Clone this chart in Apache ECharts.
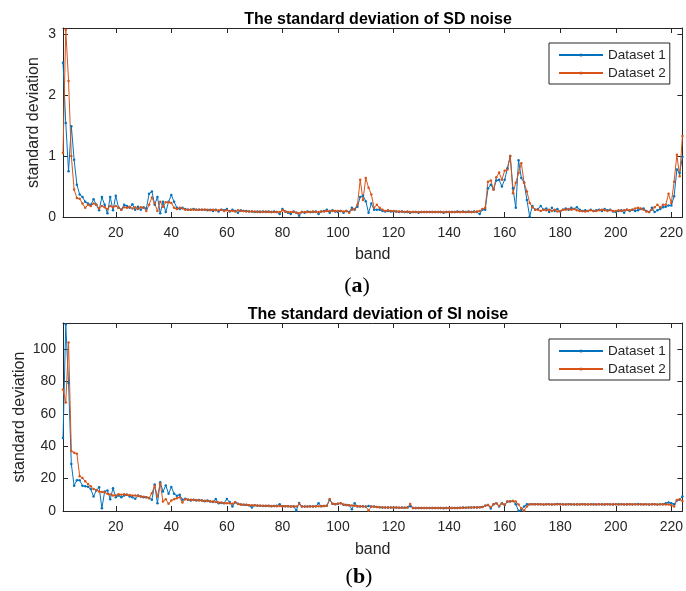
<!DOCTYPE html>
<html>
<head>
<meta charset="utf-8">
<script src="https://cdn.jsdelivr.net/npm/echarts@6/dist/echarts.min.js"></script>
<style>
html,body{margin:0;padding:0;background:#fff;}
#chart{width:686px;height:591px;}
</style>
</head>
<body>
<div id="chart"></div>
<script>
// Tick labels
var xTicks = [20, 40, 60, 80, 100, 120, 140, 160, 180, 200, 220];
var yTicksA = [0, 1, 2, 3];
var yTicksB = [0, 20, 40, 60, 80, 100];

// (a) standard deviation of SD noise
var sdDataset1 = [
2.53,1.54,0.75,1.49,0.94,0.53,0.37,0.33,0.25,0.22,
0.20,0.29,0.20,0.11,0.33,0.20,0.06,0.33,0.11,0.35,
0.15,0.12,0.20,0.18,0.15,0.21,0.12,0.17,0.12,0.16,
0.14,0.38,0.42,0.20,0.33,0.06,0.25,0.08,0.25,0.36,
0.25,0.15,0.13,0.15,0.13,0.12,0.12,0.13,0.12,0.12,
0.12,0.12,0.11,0.12,0.10,0.12,0.09,0.12,0.11,0.13,
0.09,0.12,0.10,0.07,0.11,0.10,0.10,0.09,0.09,0.08,
0.09,0.08,0.09,0.08,0.09,0.08,0.09,0.08,0.05,0.13,
0.09,0.07,0.05,0.09,0.07,0.02,0.08,0.07,0.09,0.08,
0.08,0.09,0.05,0.09,0.10,0.12,0.07,0.11,0.09,0.08,
0.10,0.07,0.10,0.08,0.15,0.12,0.17,0.33,0.35,0.26,
0.07,0.22,0.12,0.12,0.12,0.10,0.09,0.10,0.09,0.09,
0.09,0.08,0.09,0.08,0.08,0.07,0.08,0.08,0.07,0.08,
0.08,0.08,0.08,0.08,0.08,0.08,0.08,0.07,0.08,0.08,
0.08,0.08,0.09,0.08,0.09,0.08,0.09,0.08,0.09,0.08,
0.05,0.12,0.12,0.47,0.53,0.45,0.60,0.61,0.50,0.61,
0.80,1.00,0.47,0.15,0.93,0.64,0.56,0.28,0.01,0.18,
0.12,0.13,0.18,0.12,0.14,0.08,0.15,0.10,0.13,0.09,
0.12,0.14,0.12,0.15,0.13,0.16,0.12,0.10,0.11,0.10,
0.12,0.10,0.11,0.12,0.10,0.13,0.11,0.12,0.09,0.08,
0.10,0.11,0.07,0.12,0.10,0.12,0.10,0.11,0.13,0.14,
0.10,0.08,0.15,0.08,0.11,0.13,0.16,0.17,0.19,0.19,
0.34,0.78,0.72,0.99
];
var sdDataset2 = [
1.05,3.07,2.23,1.00,0.45,0.31,0.30,0.22,0.15,0.20,
0.18,0.22,0.20,0.14,0.18,0.16,0.13,0.18,0.16,0.18,
0.15,0.12,0.16,0.15,0.17,0.14,0.16,0.13,0.16,0.15,
0.10,0.20,0.32,0.22,0.10,0.25,0.17,0.24,0.24,0.23,
0.15,0.13,0.15,0.14,0.12,0.12,0.12,0.12,0.12,0.12,
0.12,0.12,0.12,0.11,0.12,0.11,0.11,0.12,0.10,0.11,
0.10,0.10,0.09,0.11,0.10,0.10,0.09,0.09,0.09,0.09,
0.08,0.09,0.08,0.09,0.08,0.08,0.08,0.08,0.08,0.11,
0.09,0.08,0.08,0.08,0.07,0.06,0.08,0.08,0.08,0.08,
0.09,0.08,0.08,0.09,0.09,0.10,0.10,0.10,0.10,0.10,
0.10,0.09,0.10,0.07,0.12,0.13,0.20,0.61,0.28,0.64,
0.48,0.37,0.15,0.20,0.15,0.12,0.10,0.11,0.10,0.10,
0.09,0.09,0.09,0.08,0.09,0.08,0.08,0.08,0.08,0.08,
0.08,0.08,0.08,0.08,0.08,0.08,0.08,0.08,0.08,0.08,
0.08,0.08,0.08,0.08,0.08,0.08,0.08,0.08,0.08,0.09,
0.10,0.13,0.15,0.58,0.60,0.45,0.65,0.73,0.61,0.76,
0.78,1.00,0.39,0.56,0.72,0.88,0.56,0.42,0.23,0.16,
0.12,0.12,0.10,0.12,0.11,0.12,0.10,0.12,0.09,0.10,
0.12,0.12,0.13,0.12,0.13,0.11,0.10,0.10,0.09,0.10,
0.11,0.10,0.10,0.11,0.12,0.11,0.10,0.11,0.10,0.10,
0.11,0.10,0.11,0.12,0.11,0.12,0.14,0.15,0.14,0.12,
0.09,0.08,0.12,0.16,0.20,0.16,0.20,0.20,0.38,0.23,
0.58,1.02,0.67,1.33
];

// (b) standard deviation of SI noise
var siDataset1 = [
45,115,79,29,15.6,19,19,15.6,15.2,15,
13.5,9,12.7,14.6,1.7,12,12.7,7.3,14,8.5,
9.5,8.5,9.5,10,9,8.5,7.5,9.5,9,8.5,
8.5,8,7,16.3,4.8,17.7,12,15.8,10.6,14.8,
10.6,9.4,10,7,7.5,7,6.5,7,6.5,6.8,
6.5,6,6.5,5.8,5.5,7.4,4.8,5,4.8,7.4,
5.5,2.7,5.4,4.5,4,3.8,3.7,3.5,2.1,3.5,
3.3,3.2,3.1,3.1,3.2,3,3.1,3.2,4.1,3,
3,2.9,2.8,2.9,0.3,5,2.7,2.8,2.7,2.9,
2.8,2.9,4.8,3,3.1,3.2,7,4.4,4.2,4.5,
4.8,3.9,3.7,3.6,1.1,4.8,2.8,2.7,2.9,2.6,
3.1,2.8,2.7,2.5,2.3,2.2,2.1,2.1,2.2,2.1,
2.1,2.0,2.1,2.0,2.2,3.0,1.9,1.8,1.9,1.8,
1.8,1.9,1.8,1.8,1.9,1.8,1.8,1.7,1.8,1.8,
1.9,1.8,1.9,2.0,2.1,2.0,2.2,2.1,2.3,2.2,
2.3,2.4,3.3,3.7,1.6,4.1,4.8,2.7,4.8,3.7,
5.8,5.8,6.2,4.1,0.2,0.6,2.7,4.1,4.1,4.2,
4.1,4.2,4.1,4.0,4.1,4.2,4.0,4.1,4.3,4.2,
4.1,4.0,4.2,4.1,4.0,4.1,4.0,4.2,4.1,4.0,
4.1,4.2,4.0,4.1,4.1,4.0,4.2,4.1,4.0,4.1,
4.2,4.1,4.0,4.1,4.2,4.0,4.1,4.3,4.1,4.0,
4.1,4.0,4.2,4.1,4.0,4.1,4.2,4.8,5.2,4.8,
4.2,6.5,7.0,9.0
];
var siDataset2 = [
75,67,104,37,36,35.4,21.5,20.4,18.3,16.7,
15.2,13.5,13,12,11.7,11.5,10.6,10.2,9.6,9.6,
10.4,10,10.4,10,9.8,9.5,9.6,9.2,9,8.8,
8.5,7.9,11,15.6,9,17,5.8,7.3,4.4,6.5,
7.3,7.9,8.5,5.2,7.3,7,7,6.8,6.8,6.5,
6.5,6.3,6.2,6,5.8,5.5,5.3,5.2,5,4.8,
4.8,4.5,5.4,4.3,4,3.9,3.8,3.6,3.5,3.5,
3.4,3.3,3.2,3.2,3.1,3.1,3.1,3,3.1,3,
3,2.9,2.8,2.8,2.8,4.3,2.8,2.8,2.7,2.8,
2.8,2.9,3,3,3.1,3.2,7.4,4.4,4.3,4.5,
4.8,4,3.7,3.6,3.4,3.2,3,2.9,2.8,2.8,
0.3,2.7,2.6,2.5,2.3,2.2,2.2,2.1,2.1,2.1,
2.1,2.0,2.0,2.0,2.1,4.3,1.9,1.8,1.8,1.8,
1.8,1.8,1.8,1.8,1.8,1.8,1.8,1.8,1.8,1.8,
1.8,1.8,1.9,1.9,2.0,2.0,2.1,2.1,2.2,2.2,
2.3,2.5,3.3,3.7,2.5,4.1,4.8,3.2,4.6,4,
5.8,6,6.2,5.8,4,1.7,0.3,2.7,4.1,4.1,
4.1,4.1,4.1,4.0,4.1,4.1,4.0,4.1,4.1,4.1,
4.0,4.1,4.1,4.0,4.1,4.0,4.1,4.1,4.0,4.1,
4.1,4.0,4.1,4.1,4.0,4.1,4.1,4.0,4.1,4.1,
4.0,4.1,4.1,4.0,4.1,4.2,4.1,4.0,4.1,4.2,
4.1,4.0,4.1,4.2,4.0,4.1,4.1,4.0,4.0,3.5,
2.7,6.8,7.3,6.2
];

function pairs(vals){
  var out = [];
  for (var i = 0; i < vals.length; i++) out.push([i + 1, vals[i]]);
  return out;
}

var AX = '#262626';
var BLUE = '#0072BD';
var ORANGE = '#D95319';
var FONT = 'Liberation Sans, Arial, Helvetica, sans-serif';

function xAxes(gridIndex, gap) {
  var base = {
    type: 'value', gridIndex: gridIndex, min: 1, max: 224,
    splitLine: {show: false},
    axisLine: {show: true, onZero: false, lineStyle: {color: AX, width: 1}}
  };
  return [
    Object.assign({}, base, {
      position: 'bottom',
      axisTick: {show: true, inside: true, length: 5, customValues: xTicks, lineStyle: {color: AX}},
      axisLabel: {show: true, customValues: xTicks, margin: 9, color: AX, fontSize: 14, fontFamily: FONT},
      name: 'band', nameLocation: 'middle', nameGap: gap, nameMoveOverlap: false,
      nameTextStyle: {color: AX, fontSize: 16, fontFamily: FONT}
    }),
    Object.assign({}, base, {
      position: 'top',
      axisTick: {show: true, inside: true, length: 5, customValues: xTicks, lineStyle: {color: AX}},
      axisLabel: {show: false}
    })
  ];
}
function yAxes(gridIndex, max, ticks, gap) {
  var base = {
    type: 'value', gridIndex: gridIndex, min: 0, max: max,
    splitLine: {show: false},
    axisLine: {show: true, onZero: false, lineStyle: {color: AX, width: 1}}
  };
  return [
    Object.assign({}, base, {
      position: 'left',
      axisTick: {show: true, inside: true, length: 5, customValues: ticks, lineStyle: {color: AX}},
      axisLabel: {show: true, customValues: ticks, margin: 7, color: AX, fontSize: 14, fontFamily: FONT},
      name: 'standard deviation', nameLocation: 'middle', nameGap: gap, nameMoveOverlap: false,
      nameTextStyle: {color: AX, fontSize: 16, fontFamily: FONT}
    }),
    Object.assign({}, base, {
      position: 'right',
      axisTick: {show: true, inside: true, length: 5, customValues: ticks, lineStyle: {color: AX}},
      axisLabel: {show: false}
    })
  ];
}
function lineSeries(name, color, vals, xi, yi) {
  return {
    name: name, type: 'line', xAxisIndex: xi, yAxisIndex: yi,
    data: pairs(vals), symbol: 'circle', symbolSize: 2.5, showSymbol: true,
    lineStyle: {color: color, width: 1}, itemStyle: {color: color},
    animation: false, clip: true
  };
}
function legendAt(top, names) {
  return {
    orient: 'vertical', left: 549, top: top, itemWidth: 44, itemHeight: 4, itemGap: 2,
    padding: [4, 4, 3, 9], borderColor: AX, borderWidth: 1, backgroundColor: '#fff',
    textStyle: {fontSize: 13.5, color: AX, fontFamily: FONT, lineHeight: 16},
    data: names, selectedMode: false,
    formatter: function (n) { return n.trim(); }
  };
}

var chart = echarts.init(document.getElementById('chart'), null, {renderer: 'canvas'});
var xs = xAxes(0, 30).concat(xAxes(1, 31));
var ys = yAxes(0, 3.1, yTicksA, 21).concat(yAxes(1, 116, yTicksB, 35));

chart.setOption({
  backgroundColor: '#fff',
  animation: false,
  title: [
    {text: 'The standard deviation of SD noise', left: 373, top: 7, textAlign: 'center',
     textStyle: {fontSize: 16, fontWeight: 'bold', color: '#000', fontFamily: FONT}},
    {text: 'The standard deviation of SI noise', left: 373, top: 302, textAlign: 'center',
     textStyle: {fontSize: 16, fontWeight: 'bold', color: '#000', fontFamily: FONT}}
  ],
  grid: [
    {left: 63, top: 28, width: 622, height: 189, containLabel: false},
    {left: 63, top: 323, width: 622, height: 188, containLabel: false}
  ],
  xAxis: xs,
  yAxis: ys,
  legend: [
    legendAt(43, ['Dataset 1', 'Dataset 2']),
    legendAt(339, ['Dataset 1 ', 'Dataset 2 '])
  ],
  series: [
    lineSeries('Dataset 1', BLUE, sdDataset1, 0, 0),
    lineSeries('Dataset 2', ORANGE, sdDataset2, 0, 0),
    lineSeries('Dataset 1 ', BLUE, siDataset1, 2, 2),
    lineSeries('Dataset 2 ', ORANGE, siDataset2, 2, 2)
  ],
  graphic: [
    {type: 'text', x: 357, y: 286, style: {
      text: '({b|a})', font: '22px "Liberation Serif", serif', fill: '#000',
      align: 'center', verticalAlign: 'middle',
      rich: {b: {fontWeight: 'bold', fontSize: 22, fontFamily: 'Liberation Serif'}}}},
    {type: 'text', x: 359, y: 577, style: {
      text: '({b|b})', font: '22px "Liberation Serif", serif', fill: '#000',
      align: 'center', verticalAlign: 'middle',
      rich: {b: {fontWeight: 'bold', fontSize: 22, fontFamily: 'Liberation Serif'}}}}
  ]
});
</script>
</body>
</html>
